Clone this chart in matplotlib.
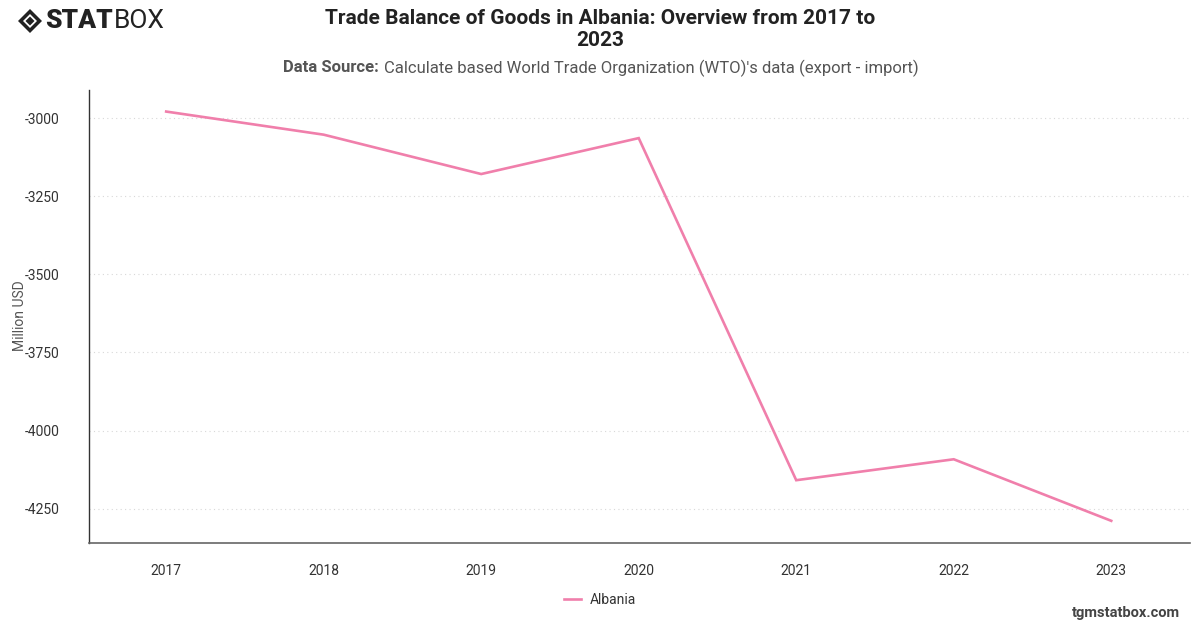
import matplotlib
matplotlib.use("Agg")
import matplotlib.pyplot as plt
from matplotlib.patches import Polygon

plt.rcParams['font.family'] = ['Roboto', 'DejaVu Sans']

years = ["2017", "2018", "2019", "2020", "2021", "2022", "2023"]
albania = [-2979, -3053, -3179, -3064, -4159, -4092, -4289]
yticks = [-3000, -3250, -3500, -3750, -4000, -4250]

W, H = 1200, 628
fig = plt.figure(figsize=(W / 100, H / 100), dpi=100)
ax = fig.add_axes([89 / W, 1 - 543 / H, (1190 - 89) / W, (543 - 90) / H])

x = list(range(len(years)))
ax.plot(x, albania, color='#f07fab', lw=1.9, label='Albania', solid_joinstyle='miter')

ax.set_xlim(-0.49, 6.5)
ax.set_ylim(-4360, -2910)
ax.set_xticks(x)
ax.set_xticklabels(years)
ax.set_yticks(yticks)
ax.set_yticklabels([str(v) for v in yticks])
ax.tick_params(axis='both', length=0, labelsize=10, labelcolor='#333333')
ax.tick_params(axis='y', pad=21)
ax.tick_params(axis='x', pad=15)
ax.grid(axis='y', linestyle=(0, (1, 3)), color='#d8d8d8', lw=0.8)
ax.set_axisbelow(True)
for s in ['top', 'right']:
    ax.spines[s].set_visible(False)
ax.spines['left'].set_color('#333333')
ax.spines['bottom'].set_color('#666666')
ax.spines['left'].set_linewidth(1)
ax.spines['bottom'].set_linewidth(1.2)

fig.text(20 / W, 1 - 316 / H, 'Million USD', rotation=90, ha='center', va='center',
         fontsize=10, color='#555555')

# title
fig.text(600 / W, 1 - 18 / H, 'Trade Balance of Goods in Albania: Overview from 2017 to',
         ha='center', va='center', fontsize=15, fontweight='bold', color='#222222')
fig.text(600 / W, 1 - 41 / H, '2023', ha='center', va='center', fontsize=15,
         fontweight='bold', color='#222222')
t1 = fig.text(283 / W, 1 - 68 / H, 'Data Source:', ha='left', va='center', fontsize=12,
              fontweight='bold', color='#555555')
fig.canvas.draw()
bb = t1.get_window_extent()
fig.text((bb.x1 + 5) / W, 1 - 68 / H,
         "Calculate based World Trade Organization (WTO)'s data (export - import)",
         ha='left', va='center', fontsize=12, color='#555555')

# legend
leg = fig.legend(loc='center', bbox_to_anchor=(600 / W, 1 - 600 / H), frameon=False,
                 fontsize=10, handlelength=1.2, handletextpad=0.6)
for t in leg.get_texts():
    t.set_color('#333333')

# watermark
fig.text(1180 / W, 1 - 613 / H, 'tgmstatbox.com', ha='right', va='center', fontsize=10.5,
         fontweight='bold', color='#444444')

# logo
cx, cy, r = 30 / W, 1 - 21 / H, 12
def P(dx, dy):
    return (cx + dx / W, cy + dy / H)
fig.patches.append(Polygon([P(0, r), P(r, 0), P(0, -r), P(-r, 0)], closed=True,
                           transform=fig.transFigure, fc='#222222', ec='none'))
fig.patches.append(Polygon([P(0, 7), P(7, 0), P(0, -7), P(-7, 0)], closed=True,
                           transform=fig.transFigure, fc='white', ec='none'))
fig.patches.append(Polygon([P(0, 4.5), P(4.5, 0), P(0, -4.5), P(-4.5, 0)], closed=True,
                           transform=fig.transFigure, fc='#222222', ec='none'))
ts = fig.text(45 / W, 1 - 21 / H, 'STAT', ha='left', va='center', fontsize=19,
              fontweight='black', color='#222222')
fig.canvas.draw()
bb = ts.get_window_extent()
fig.text((bb.x1 + 1) / W, 1 - 21 / H, 'BOX', ha='left', va='center', fontsize=19,
         fontweight='normal', color='#222222')

fig.savefig('out.png', dpi=100)
